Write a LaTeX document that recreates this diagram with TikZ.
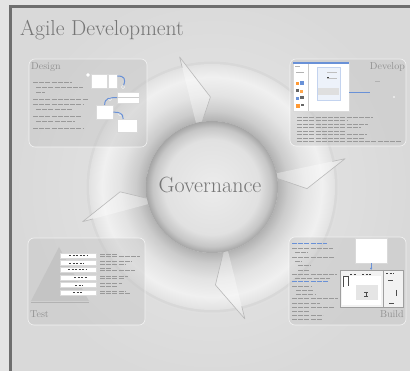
\documentclass[tikz,border=0pt]{standalone}
\usepackage{fontspec}
\usepackage{tikz}
\usetikzlibrary{shapes}
\usetikzlibrary{backgrounds}
\usetikzlibrary{calc}
\usetikzlibrary{positioning, fit, arrows.meta}

\definecolor{marginbg}{RGB}{228,228,228}
\definecolor{slidebg}{RGB}{217,217,217}
\definecolor{glowcol}{RGB}{232,232,232}
\definecolor{framecol}{RGB}{110,110,110}
\definecolor{headgray}{RGB}{118,118,118}
\definecolor{lblgray}{RGB}{145,145,145}
\definecolor{linkblue}{RGB}{105,145,215}
\definecolor{ringA}{RGB}{178,178,178}
\definecolor{ringB}{RGB}{204,204,204}
\definecolor{ringC}{RGB}{227,227,227}
\definecolor{ringD}{RGB}{240,240,240}
\definecolor{ringF}{RGB}{229,229,229}
\definecolor{ringE}{RGB}{206,206,206}
\definecolor{discA}{RGB}{236,236,236}
\definecolor{discB}{RGB}{225,225,225}
\definecolor{discC}{RGB}{198,198,198}
\definecolor{discD}{RGB}{165,165,165}

\pgfdeclareradialshading{ringshade}{\pgfpoint{0bp}{0bp}}{color(0bp)=(ringA); color(12.1bp)=(ringA); color(14bp)=(ringB); color(16.9bp)=(ringC); color(20.2bp)=(ringD); color(22.1bp)=(ringF); color(25bp)=(ringE); color(50bp)=(ringE)}
\pgfdeclareradialshading{discshade}{\pgfpoint{0bp}{0bp}}{color(0bp)=(discA); color(18bp)=(discB); color(22.5bp)=(discC); color(25bp)=(discD); color(50bp)=(discD)}

\begin{document}
\begin{tikzpicture}[x=1pt, y=-1pt,
        panel/.style={draw=white, draw opacity=0.7, line width=0.6pt, fill=gray!45, fill opacity=0.45, rounded corners=6pt, inner sep=0pt},
        ptitle/.style={text=lblgray, font=\fontsize{10}{12}\selectfont, inner sep=0pt},
        txt/.style={draw=gray!80, line width=1pt, dash pattern=on 5pt off 1.2pt},
        darktxt/.style={draw=black!75, line width=0.8pt, dash pattern=on 2pt off 1.5pt},
        wbox/.style={draw=gray!30, fill=white, inner sep=0pt, line width=0.3pt},
        link/.style={draw=linkblue, line width=1pt},
        knob/.style={circle, fill=gray!60, draw=white, line width=0.5pt, inner sep=0pt, minimum size=3pt},
        headfill/.style={fill=white, opacity=0.35},
        headedge/.style={draw=gray!55, line width=0.6pt, line join=round}]
        \useasboundingbox (0,0) rectangle (410,371);

        % Slide
        \fill[marginbg] (0,0) rectangle (410,371);
        \begin{scope}
            \clip (10,6) rectangle (410,371);
            \fill[slidebg] (10,6) rectangle (410,371);
            \shade[inner color=glowcol, outer color=slidebg] (212,187) circle (200);
        \end{scope}
        \draw[framecol, line width=2.5pt] (10.5,371) -- (10.5,6.5) -- (410,6.5);

        \node[font=\fontsize{21.6}{26}\selectfont, text=headgray, anchor=base west, inner sep=0pt] (title) at (20,36) {Agile Development};

        % Cycle
        \begin{scope}[shift={(212,187)}, yscale=-1]
            \draw[gray!40, line width=3pt, opacity=0.35] (0,0) circle (124);
            \begin{scope}
                \clip (0,0) circle (123) (66,0) arc[start angle=0, end angle=-360, radius=66]
                    (104:56) -- (91:90) -- (104:134) -- cycle
                    (12:57) -- (-1:95) -- (12:136) -- cycle
                    (-76:57) -- (-88:98) -- (-76:136) -- cycle
                    (195:55) -- (183:92) -- (195:134) -- cycle;
                \shade[shading=ringshade] (0,0) circle (136);
            \end{scope}
            % Heads
            \fill[headfill] (104:56) -- (91:90) -- (104:134) -- cycle;
            \fill[headfill] (12:57) -- (-1:95) -- (12:136) -- cycle;
            \fill[headfill] (-76:57) -- (-88:98) -- (-76:136) -- cycle;
            \fill[headfill] (195:55) -- (183:92) -- (195:134) -- cycle;
            \draw[headedge] (104:66) -- (104:56) -- (91:90) -- (104:134) -- (104:123);
            \draw[headedge] (12:66) -- (12:57) -- (-1:95) -- (12:136) -- (12:123);
            \draw[headedge] (-76:66) -- (-76:57) -- (-88:98) -- (-76:136) -- (-76:123);
            \draw[headedge] (195:66) -- (195:55) -- (183:92) -- (195:134) -- (195:123);
            \shade[shading=discshade] (0,0) circle (66);
        \end{scope}
        \node[font=\fontsize{22}{26}\selectfont, text=headgray] (gov) at (210,185) {Governance};

        % Panels
        \node[panel, minimum width=118pt, minimum height=88pt] (design) at (88,103) {};
        \node[panel, minimum width=116pt, minimum height=87pt] (develop) at (348,102.5) {};
        \node[panel, minimum width=117pt, minimum height=87pt] (test) at (86.5,281.5) {};
        \node[panel, minimum width=117pt, minimum height=88pt] (build) at (347.5,281) {};

        \node[ptitle, anchor=base west] (designlbl) at (31,70) {Design};
        \node[ptitle, anchor=base east] (developlbl) at (405,70) {Develop};
        \node[ptitle, anchor=base west] (testlbl) at (30,318) {Test};
        \node[ptitle, anchor=base east] (buildlbl) at (404,318) {Build};

        % Design
        \draw[txt] (33,83) -- (72,83) (36,88) -- (83,88) (36,93) -- (45,93)
            (33,100) -- (88,100) (33,105) -- (83,105) (36,109.5) -- (72,109.5)
            (33,117) -- (82,117) (36,122) -- (75,122) (33,129) -- (83,129);
        \node[wbox, minimum width=16pt, minimum height=14pt, anchor=north west] (box1) at (91,74) {};
        \node[wbox, minimum width=9pt, minimum height=14pt, anchor=north west] (box1b) at (108,74) {};
        \node[wbox, minimum width=22pt, minimum height=11pt, anchor=north west] (box2) at (117,92) {};
        \node[wbox, minimum width=17pt, minimum height=14pt, anchor=north west] (box3) at (96,105) {};
        \node[wbox, minimum width=20pt, minimum height=13pt, anchor=north west] (box4) at (117,119) {};
        \draw[gray!40, line width=0.4pt] (box2.west) -- (box2.east);
        \node[knob, fill=white] (k0) at (88,75) {};
        \node[knob] (k1) at (123,87) {};
        \node[knob] (k2) at (110,99) {};
        \node[knob] (k3) at (120,114) {};
        \draw[link] ([yshift=-2pt]box1b.north east) to[out=0, in=70, looseness=1.6] (k1);
        \draw[link] (box2.west) to[out=180, in=90, looseness=1.3] (box3.north);
        \draw[link] (box3.east) to[out=0, in=90, looseness=1.3] ([xshift=-4pt]box4.north);

        % Develop
        \node[wbox, minimum width=56pt, minimum height=49pt, anchor=north west] (shot) at (293,62) {};
        \fill[linkblue] (shot.north west) rectangle ([yshift=-2.5pt]shot.north east);
        \draw[gray!40, line width=0.4pt] (308,64.5) -- (308,111);
        \node[draw=linkblue!40, fill=linkblue!12, minimum width=23pt, minimum height=33pt, anchor=north west, inner sep=0pt] (dialog) at (317,67) {};
        \draw[gray!60, line width=0.6pt] (295,66) -- (300,66) (296,72) -- (304,72);
        \draw[darktxt] (327,77) -- (330,77);
        \draw[gray!50, line width=0.6pt] (327,72) -- (337,72) (327,78) -- (337,78);
        \fill[gray!25] (318,88) rectangle (339,95);
        \fill[orange!80] (296,82) rectangle (299,85); \fill[linkblue] (300,81) rectangle (304,85);
        \fill[black!60] (296,89) rectangle (299,92); \fill[orange!70] (300,90) rectangle (303,93);
        \fill[linkblue] (296,97) rectangle (299,100); \fill[black!60] (300,96) rectangle (304,99);
        \fill[orange!80] (296,104) rectangle (300,108); \fill[black!60] (301,104) rectangle (304,106);
        \coordinate (devtip) at (370,93);
        \draw[link] (shot.east |- devtip) -- (devtip);
        \draw[gray!60, line width=0.6pt] (375,81) -- (380,81);
        \fill[white] (394,97) circle (0.8);
        \draw[txt, line width=0.8pt] (297,117) -- (373,117) (297,120.5) -- (347,120.5) (297,124) -- (368,124)
            (297,127.5) -- (361,127.5) (297,131) -- (345,131) (297,134.5) -- (367,134.5)
            (297,138) -- (365,138) (297,141.5) -- (402,141.5);

        % Test
        \fill[gray!50, opacity=0.7] (31,301) -- (59,247) -- (89,301) -- cycle;
        \draw[gray!60, line width=0.8pt] (31,302) -- (89,302);
        \node[wbox, minimum width=36pt, minimum height=5pt, anchor=north west] (lvl1) at (60,253) {};
        \node[wbox, minimum width=36pt, minimum height=5pt, anchor=north west] (lvl2) at (60,260.5) {};
        \node[wbox, minimum width=36pt, minimum height=5pt, anchor=north west] (lvl3) at (60,267) {};
        \node[wbox, minimum width=36pt, minimum height=5pt, anchor=north west] (lvl4) at (60,275) {};
        \node[wbox, minimum width=36pt, minimum height=5pt, anchor=north west] (lvl5) at (60,282.5) {};
        \node[wbox, minimum width=36pt, minimum height=5pt, anchor=north west] (lvl6) at (60,290) {};
        \draw[darktxt] ([xshift=-9pt]lvl1.center) -- ([xshift=9pt]lvl1.center);
        \draw[darktxt] ([xshift=-9pt]lvl2.center) -- ([xshift=6pt]lvl2.center);
        \draw[darktxt] ([xshift=-10pt]lvl3.center) -- ([xshift=8pt]lvl3.center);
        \draw[darktxt] ([xshift=-4pt]lvl4.center) -- ([xshift=10pt]lvl4.center);
        \draw[darktxt] ([xshift=-3pt]lvl5.center) -- ([xshift=5pt]lvl5.center);
        \draw[darktxt] ([xshift=-5pt]lvl6.center) -- ([xshift=4pt]lvl6.center);
        \draw[txt, line width=0.7pt] (100,254) -- (118,254) (100,256.5) -- (140,256.5)
            (100,261.5) -- (132,261.5) (100,264) -- (125,264)
            (100,268) -- (112,268) (100,270.5) -- (135,270.5)
            (100,276) -- (128,276) (100,278.5) -- (124,278.5)
            (100,283.5) -- (122,283.5) (100,286) -- (118,286)
            (100,291) -- (125,291) (100,293.5) -- (130,293.5);

        % Build
        \draw[txt, draw=linkblue] (292,244) -- (327,244) (292,282) -- (328,282);
        \draw[txt, line width=0.7pt] (292,248) -- (333,248) (295,252.5) -- (308,252.5) (292,257) -- (335,257)
            (295,261) -- (302,261) (298,265.5) -- (311,265.5) (298,270) -- (310,270)
            (292,274) -- (337,274) (295,278) -- (330,278)
            (292,286) -- (311,286) (296,290) -- (314,290) (296,294) -- (315,294)
            (292,298) -- (338,298) (292,303) -- (320,303) (292,307) -- (335,307)
            (292,311) -- (310,311) (292,315) -- (323,315) (292,319) -- (322,319);
        \node[wbox, minimum width=32pt, minimum height=25pt, anchor=north west] (bshot) at (355,238) {};
        \node[draw=gray!75, fill=gray!10, line width=0.6pt, minimum width=63pt, minimum height=37pt, anchor=north west, inner sep=0pt] (bscreen) at (340,270) {};
        \draw[link, line width=0.8pt, -{Latex[length=2pt, width=2.5pt]}] (bshot.south) -- (bshot.south |- bscreen.north);
        \draw[gray!75, line width=0.6pt] (383,270) -- (383,307);
        \fill[white] (342,276) rectangle (381,305);
        \fill[gray!20] (356,285) rectangle (378,300);
        \draw[black!70, line width=0.7pt] (343,276) -- (343,287) (343,276) -- (348,276) (348,276) -- (348,286)
            (364,292) -- (368,292) (364,296) -- (368,296) (366,292) -- (366,296)
            (388,280) -- (393,280) (396,290) -- (396,296) (389,303) -- (394,303);
        \draw[darktxt] (350,274) -- (356,274) (362,274) -- (372,274) (386,273) -- (394,273);
    \end{tikzpicture}
\end{document}
